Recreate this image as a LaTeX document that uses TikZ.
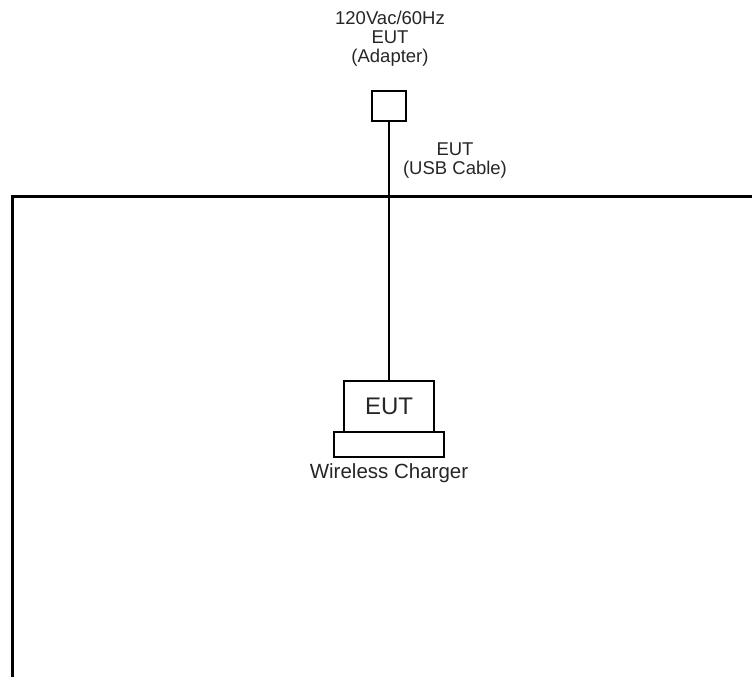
\documentclass[tikz,border=0pt]{standalone}
\usepackage{fontspec}
\setmainfont{Liberation Sans}
\begin{document}
\begin{tikzpicture}[x=1pt,y=-1pt,
  box/.style={draw=black,line width=1.8pt,inner sep=0pt,outer sep=0pt},
  wire/.style={draw=black,line width=1.8pt},
  frame/.style={draw=black,line width=3pt},
  lbl/.style={align=center,font=\fontsize{18.5}{19}\selectfont,text=black!85,inner sep=0pt}]
\useasboundingbox (0,0) rectangle (752,677);
% outer frame (partial)
\coordinate (fl) at (12,677);
\coordinate (tl) at (12,196);
\coordinate (tr) at (753,196);
\draw[frame,line join=miter] (fl) -- (tl) -- (tr);
% adapter
\node[box,minimum width=34pt,minimum height=30pt] (adapter) at (389,106) {};
\node[lbl] (adlbl) at (390,39) {120Vac/60Hz\\EUT\\(Adapter)};
% EUT and charger
\node[box,minimum width=90pt,minimum height=51pt,font=\fontsize{24}{24}\selectfont,text=black!85] (eut) at (389,406.5) {EUT};
\node[box,minimum width=110pt,minimum height=25pt,anchor=north] (charger) at (eut.south) {};
\node[lbl,font=\fontsize{20.5}{21}\selectfont,anchor=north] (chlbl) at ([yshift=-6pt]charger.south) {Wireless Charger};
% cable
\draw[wire] (adapter.south) -- (eut.north);
\node[lbl] (cablbl) at (455,161) {EUT\\(USB Cable)};
\end{tikzpicture}
\end{document}
